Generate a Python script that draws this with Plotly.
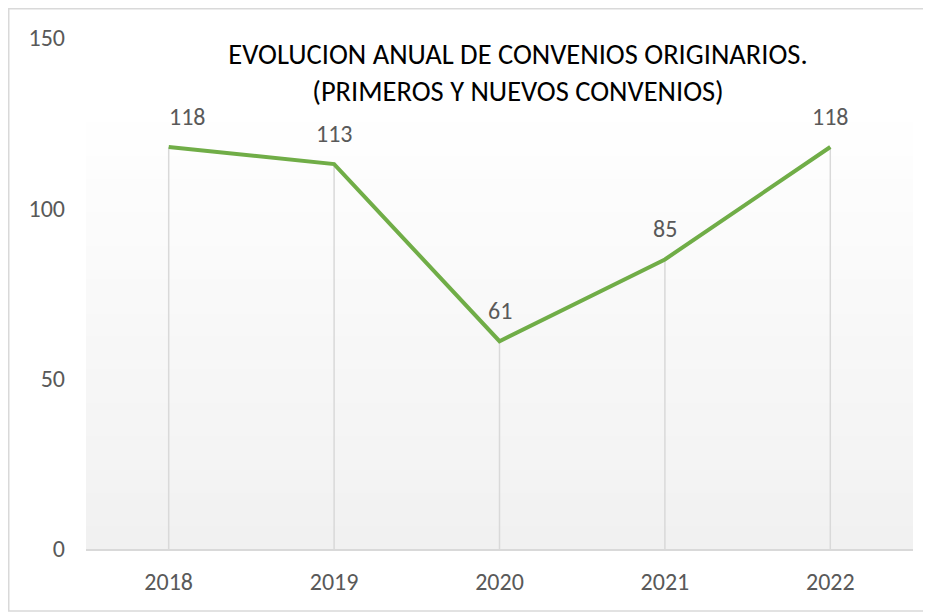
import plotly.graph_objects as go

# Datos
anios = ['2018', '2019', '2020', '2021', '2022']
convenios = [118, 113, 61, 85, 118]
y_ticks = [0, 50, 100, 150]

FONT = "Carlito, Calibri, 'Liberation Sans Narrow', 'Open Sans', sans-serif"
GRIS_TXT = '#595959'

# Tamaño de figura (la página añade 8 px de margen al body)
W, H = 923, 607
ML, MR, MT, MB = 78, 18, 30, 66
pw = W - ML - MR
ph = H - MT - MB

fig = go.Figure()

# Líneas de caída desde cada punto hasta el eje
for a, v in zip(anios, convenios):
    fig.add_trace(go.Scatter(
        x=[a, a], y=[0, v],
        mode='lines',
        line=dict(color='#d9d9d9', width=1.5),
        hoverinfo='skip', showlegend=False
    ))

fig.add_trace(go.Scatter(
    x=anios, y=convenios,
    mode='lines',
    line=dict(color='#70ad47', width=4),
    showlegend=False
))

# Etiquetas de datos (x como índice de categoría)
for i, v in enumerate(convenios):
    fig.add_annotation(
        x=i, y=v, text=str(v), showarrow=False,
        yshift=31, yanchor='middle',
        xshift=19 if i == 0 else 0,
        font=dict(family=FONT, size=24, color=GRIS_TXT)
    )

# Fondo degradado del área de trazado (blanco arriba -> gris claro abajo)
n = 40
top = 0.879
for i in range(n):
    y0 = top * i / n
    y1 = top * (i + 1) / n
    t = i / (n - 1)
    c = int(round(241 + 14 * t))
    fig.add_shape(type='rect', xref='paper', yref='paper',
                  x0=0, x1=1, y0=y0, y1=y1 + 0.002,
                  fillcolor=f'rgb({c},{c},{c})', line_width=0, layer='below')

# Borde del gráfico (sin lado derecho visible)
fig.add_shape(type='rect', xref='paper', yref='paper',
              x0=(0.75 - ML) / pw, x1=1.5,
              y0=(ph + MT - 603) / ph, y1=(ph + MT - 0.75) / ph,
              line=dict(color='#d9d9d9', width=1.5), layer='below')

fig.update_layout(
    width=W, height=H,
    margin=dict(l=ML, r=MR, t=MT, b=MB),
    paper_bgcolor='white',
    plot_bgcolor='rgba(0,0,0,0)',
    title=dict(
        text='EVOLUCION ANUAL DE CONVENIOS ORIGINARIOS.<br>(PRIMEROS Y NUEVOS CONVENIOS)',
        x=510 / W, xanchor='center', y=1 - 55.5 / H, yanchor='middle',
        font=dict(family=FONT, size=28.5, color='#000000')
    ),
    xaxis=dict(
        type='category', range=[-0.5, 4.5],
        showgrid=False, zeroline=False,
        showline=True, linecolor='#d9d9d9', linewidth=1.5,
        ticks='', tickfont=dict(family=FONT, size=24, color=GRIS_TXT),
        ticklabelstandoff=10
    ),
    yaxis=dict(
        range=[0, 150], tickvals=y_ticks,
        showgrid=False, zeroline=False, showline=False,
        ticks='', tickfont=dict(family=FONT, size=24, color=GRIS_TXT),
        ticklabelstandoff=20
    ),
)

fig.write_html("out.html")
